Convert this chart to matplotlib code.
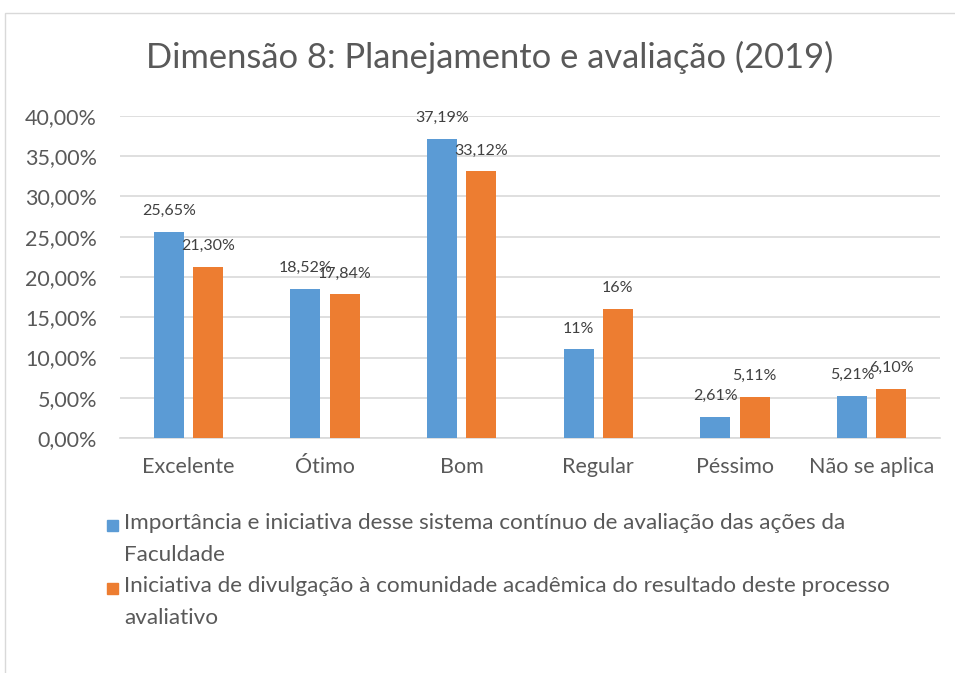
import matplotlib
matplotlib.use("Agg")
import matplotlib.pyplot as plt
from matplotlib.patches import Rectangle
import numpy as np

categories = ["Excelente", "Ótimo", "Bom", "Regular", "Péssimo", "Não se aplica"]
importancia = [25.65, 18.52, 37.19, 11.0, 2.61, 5.21]
divulgacao = [21.30, 17.84, 33.12, 16.0, 5.11, 6.10]
importancia_labels = ["25,65%", "18,52%", "37,19%", "11%", "2,61%", "5,21%"]
divulgacao_labels = ["21,30%", "17,84%", "33,12%", "16%", "5,11%", "6,10%"]
series_names = [
    "Importância e iniciativa desse sistema contínuo de avaliação das ações da\nFaculdade",
    "Iniciativa de divulgação à comunidade acadêmica do resultado deste processo\navaliativo",
]
yticks = [0, 5, 10, 15, 20, 25, 30, 35, 40]
title = "Dimensão 8: Planejamento e avaliação (2019)"

BLUE = "#5b9bd5"
ORANGE = "#ed7d31"
TXT = "#595959"
GRID = "#d9d9d9"
FONT = ["Lato", "DejaVu Sans"]
plt.rcParams["font.family"] = FONT

W, H = 955, 673
fig = plt.figure(figsize=(W / 100, H / 100), dpi=100)
ax = fig.add_axes([120 / W, (H - 438) / H, 820 / W, 322 / H])

x = np.arange(len(categories))
bw = 0.22
off = 0.143
b1 = ax.bar(x - off, importancia, bw, color=BLUE, zorder=3)
b2 = ax.bar(x + off, divulgacao, bw, color=ORANGE, zorder=3)

for bars, labs in ((b1, importancia_labels), (b2, divulgacao_labels)):
    for r, lab in zip(bars, labs):
        ax.annotate(lab, (r.get_x() + r.get_width() / 2, r.get_height()),
                    xytext=(0, 10), textcoords="offset points",
                    ha="center", va="bottom", fontsize=11.5, color="#404040", zorder=4)

ax.set_xlim(-0.5, len(categories) - 0.5)
ax.set_ylim(0, 40)
ax.set_yticks(yticks)
ax.set_yticklabels([f"{v:.2f}".replace(".", ",") + "%" for v in yticks], fontsize=15.5, color=TXT)
ax.set_xticks(x)
ax.set_xticklabels(categories, fontsize=15.5, color=TXT)
ax.tick_params(length=0)
ax.tick_params(axis="x", pad=14)
ax.tick_params(axis="y", pad=16.5)
ax.yaxis.grid(True, color=GRID, linewidth=1.2, zorder=0)
for s in ["top", "right", "left"]:
    ax.spines[s].set_visible(False)
ax.spines["bottom"].set_color(GRID)
ax.spines["bottom"].set_linewidth(1.2)

fig.text(490 / W, (H - 57) / H, title, ha="center", va="center", fontsize=24.8, color=TXT)

# legend
colors = [BLUE, ORANGE]
ys = [525, 588]
for c, name, yc in zip(colors, series_names, ys):
    fig.patches.append(Rectangle((107 / W, (H - yc - 5.5) / H), 11 / W, 11 / H,
                                 transform=fig.transFigure, color=c, figure=fig))
    fig.text(124 / W, (H - yc + 12) / H, name, ha="left", va="top",
             fontsize=16.2, color=TXT, linespacing=1.72)

# chart border
fig.patches.append(Rectangle((5 / W, -0.05), 1.2, (H - 13) / H + 0.05,
                             transform=fig.transFigure, fill=False,
                             edgecolor=GRID, linewidth=1, figure=fig))

fig.savefig("out.png", dpi=100)
